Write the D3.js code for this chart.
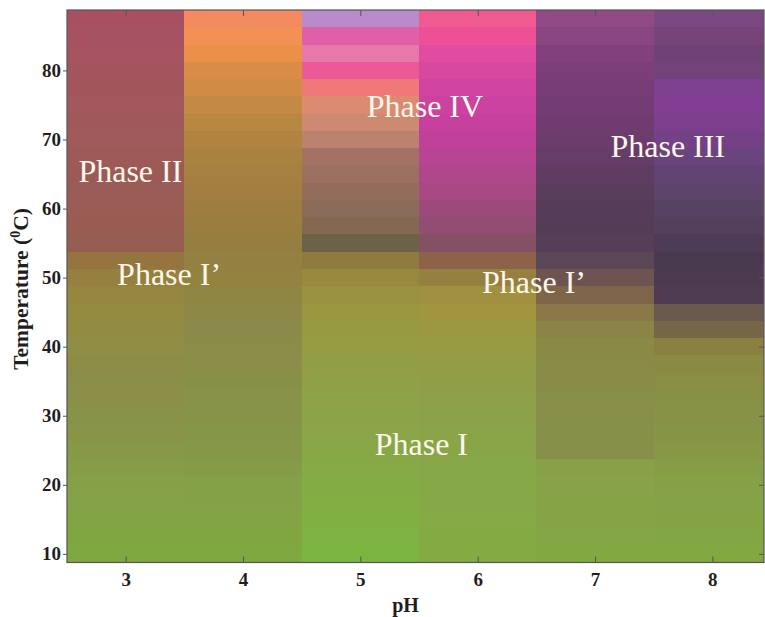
<!DOCTYPE html>
<html>
<head>
<meta charset="utf-8">
<script src="https://cdn.jsdelivr.net/npm/d3@7"></script>
<style>
  html, body { margin: 0; padding: 0; background: #ffffff; }
  svg { display: block; }
</style>
</head>
<body>
<svg id="chart" width="765" height="617"></svg>
<script>
// pH columns and temperature rows (row centres, °C, bottom to top)
const pHValues = [3, 4, 5, 6, 7, 8];
const temperatures = [10, 12.5, 15, 17.5, 20, 22.5, 25, 27.5, 30, 32.5, 35, 37.5, 40, 42.5, 45, 47.5,
                      50, 52.5, 55, 57.5, 60, 62.5, 65, 67.5, 70, 72.5, 75, 77.5, 80, 82.5, 85, 87.5];

// observed solution colour for each temperature row, one array per pH (bottom to top)
const colorsPH3 = ["#7ea840","#80a642","#82a444","#84a246","#85a048","#869c48","#879848","#889448",
                   "#889248","#8a9048","#8a8e48","#8c8c46","#908e44","#928c42","#948a40","#958640",
                   "#968040","#957440","#965e50","#985c52","#9a5c54","#9a5c56","#9c5a56","#9e5a58",
                   "#a05a5a","#a0585a","#a2585c","#a2565c","#a4545e","#a65460","#a65262","#a85062"];
const colorsPH4 = ["#7ea840","#80a642","#82a444","#83a246","#84a048","#849c48","#859848","#869648",
                   "#879448","#889248","#889048","#8a8e48","#8a8c48","#8c8a48","#8e8846","#908644",
                   "#928440","#948040","#967e40","#9a7e40","#9e7e40","#a27e40","#a68040","#aa8240",
                   "#b08440","#b88842","#c48a45","#d08c45","#d88c45","#ea9048","#f29055","#f48a60"];
const colorsPH5 = ["#7cb440","#7eb242","#80b042","#82ae44","#84ac44","#86aa46","#88a848","#8aa648",
                   "#8ca448","#8ea248","#90a046","#929e46","#969c44","#989a42","#9a9640","#9a9240",
                   "#988a3c","#907a40","#6c6248","#846852","#8a6a58","#946c5c","#9c7060","#a47264",
                   "#bc8270","#cc8a72","#dc8a70","#f07878","#ec5898","#e878a8","#e060a8","#b88ccc"];
const colorsPH6 = ["#84aa44","#84aa44","#86aa46","#86a846","#86a846","#86a848","#88a648","#8aa448",
                   "#8ca248","#8ea048","#909e46","#949c46","#989a44","#9c9842","#a09640","#a09040",
                   "#968040","#8e6248","#845064","#924e72","#9c4a7c","#a84884","#b0468c","#b84494",
                   "#c0409a","#c8409e","#cc42a0","#d244a2","#d848a0","#e24ca0","#ee5098","#f05a90"];
const colorsPH7 = ["#82a842","#84a644","#86a446","#86a446","#88a248","#88a048","#869048","#869048",
                   "#868e48","#868e48","#888c46","#888c46","#8a8a46","#8a8446","#8a7848","#7e6448",
                   "#6e5450","#5a4654","#563e56","#543c56","#563c58","#5a3c5c","#603c62","#663c68",
                   "#6c3c6c","#703c70","#743c74","#783c76","#7c3e78","#82407c","#8a4680","#924a84"];
const colorsPH8 = ["#82a842","#82a644","#84a444","#84a246","#86a046","#869c46","#869846","#869446",
                   "#889246","#889046","#8a8e44","#8a8a44","#8a8042","#766648","#6a5a4e","#4e3c52",
                   "#4c3a50","#4a3a50","#4e3c56","#52405c","#564262","#5c446a","#624474","#6a447e",
                   "#744086","#7e408e","#823e92","#7e4090","#724278","#6e4274","#764478","#7c4882"];
const columnColors = [colorsPH3, colorsPH4, colorsPH5, colorsPH6, colorsPH7, colorsPH8];

// axis ticks
const pHTicks = [3, 4, 5, 6, 7, 8];
const tempTicks = [10, 20, 30, 40, 50, 60, 70, 80];

// phase annotations (position in pH / °C, baseline)
const phaseNames = ["Phase II", "Phase I\u2019", "Phase IV", "Phase III", "Phase I\u2019", "Phase I"];
const phasePH    = [3.04, 3.37, 5.55, 7.62, 6.48, 5.52];
const phaseTemp  = [63.8, 49.0, 73.3, 67.5, 47.8, 24.3];

const rowHalf = 1.25;   // half of the 2.5 °C temperature step
const colHalf = 0.5;    // half of the 1 pH step

const svg = d3.select("#chart");
const x = d3.scaleLinear().domain([2.5, 8.44]).range([67, 764]);
const y = d3.scaleLinear().domain([8.75, 88.75]).range([562.5, 10]);

const serif = "'Liberation Serif', 'Times New Roman', serif";

svg.append("clipPath").attr("id", "plot-clip")
  .append("rect")
  .attr("x", x.range()[0]).attr("y", y.range()[1])
  .attr("width", x.range()[1] - x.range()[0])
  .attr("height", y.range()[0] - y.range()[1]);

// heat-map cells
const cells = [];
pHValues.forEach((p, ci) => {
  temperatures.forEach((t, ri) => {
    cells.push({ pH: p, T: t, color: columnColors[ci][ri] });
  });
});

svg.append("g").attr("clip-path", "url(#plot-clip)")
  .selectAll("rect").data(cells).join("rect")
  .attr("x", d => x(d.pH - colHalf))
  .attr("width", d => x(d.pH + colHalf) - x(d.pH - colHalf))
  .attr("y", d => y(d.T + rowHalf))
  .attr("height", d => y(d.T - rowHalf) - y(d.T + rowHalf))
  .attr("fill", d => d.color)
  .attr("shape-rendering", "crispEdges");

// phase labels
svg.append("g").selectAll("text").data(phaseNames).join("text")
  .attr("x", (d, i) => x(phasePH[i]))
  .attr("y", (d, i) => y(phaseTemp[i]))
  .attr("text-anchor", "middle")
  .attr("font-family", serif)
  .attr("font-size", 32)
  .attr("fill", "#fdf7ec")
  .text(d => d);

// axes
const axisColor = "#555";
function styleAxis(g) {
  g.select(".domain").remove();
  g.selectAll(".tick line").attr("stroke", axisColor);
  g.selectAll(".tick text")
    .attr("font-family", serif).attr("font-size", 19)
    .attr("font-weight", "bold").attr("fill", "#1e1e1e");
}

svg.append("g")
  .attr("transform", `translate(0,${y.range()[0]})`)
  .call(d3.axisBottom(x).tickValues(pHTicks).tickFormat(d3.format("d"))
        .tickSizeInner(-6).tickSizeOuter(0).tickPadding(10))
  .call(styleAxis);

svg.append("g")
  .attr("transform", `translate(0,${y.range()[1]})`)
  .call(d3.axisTop(x).tickValues(pHTicks).tickFormat("")
        .tickSizeInner(-6).tickSizeOuter(0))
  .call(styleAxis);

svg.append("g")
  .attr("transform", `translate(${x.range()[0]},0)`)
  .call(d3.axisLeft(y).tickValues(tempTicks).tickFormat(d3.format("d"))
        .tickSizeInner(4).tickSizeOuter(0).tickPadding(2))
  .call(styleAxis);

svg.append("g")
  .attr("transform", `translate(${x.range()[1]},0)`)
  .call(d3.axisRight(y).tickValues(tempTicks).tickFormat("")
        .tickSizeInner(-5).tickSizeOuter(0))
  .call(styleAxis);

// frame
svg.append("rect")
  .attr("x", x.range()[0]).attr("y", y.range()[1])
  .attr("width", x.range()[1] - x.range()[0])
  .attr("height", y.range()[0] - y.range()[1])
  .attr("fill", "none").attr("stroke", axisColor).attr("stroke-width", 1.2);

// axis titles
svg.append("text")
  .attr("x", (x.range()[0] + x.range()[1]) / 2 - 10)
  .attr("y", 612)
  .attr("text-anchor", "middle")
  .attr("font-family", serif).attr("font-size", 20).attr("font-weight", "bold")
  .attr("fill", "#1e1e1e")
  .text("pH");

const yTitle = svg.append("text")
  .attr("transform", "translate(28,289) rotate(-90)")
  .attr("text-anchor", "middle")
  .attr("font-family", serif).attr("font-size", 21.5).attr("font-weight", "bold")
  .attr("fill", "#1e1e1e");
yTitle.append("tspan").text("Temperature (");
yTitle.append("tspan").attr("font-size", 14).attr("dy", -8).text("0");
yTitle.append("tspan").attr("dy", 8).text("C)");
</script>
</body>
</html>
